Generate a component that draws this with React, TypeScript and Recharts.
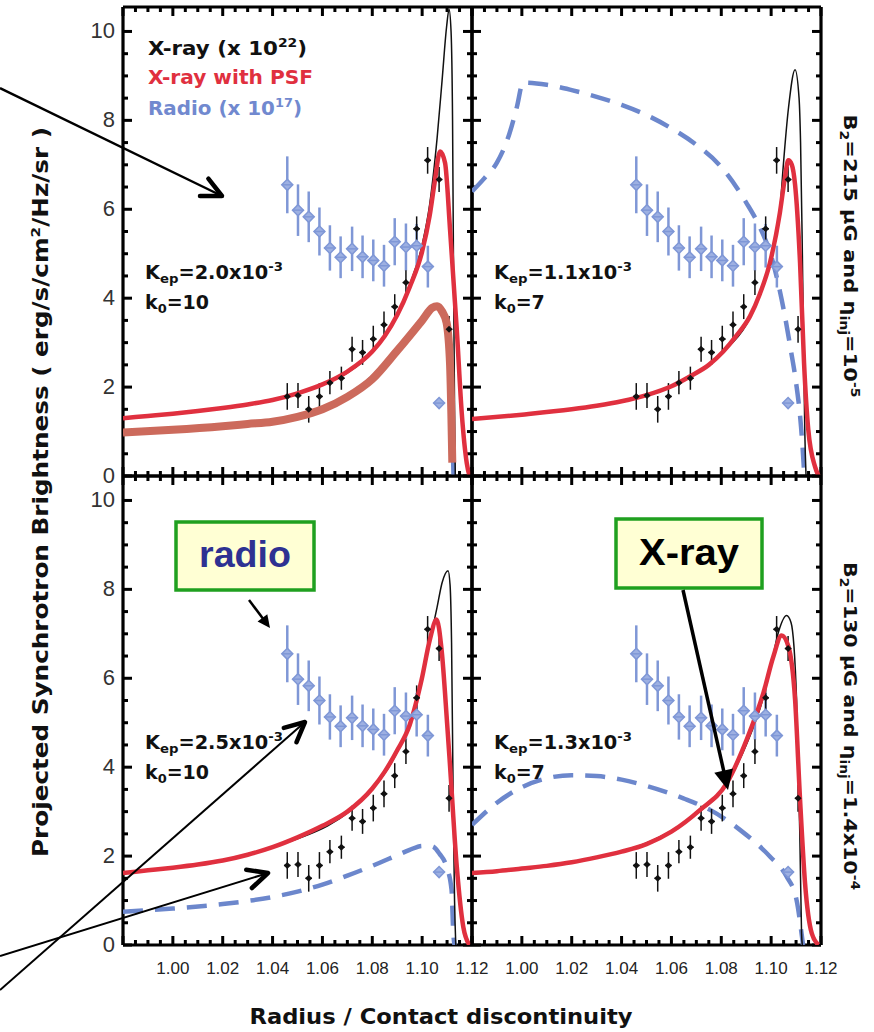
import React from 'react';
import { ComposedChart, Line, Scatter, ErrorBar, XAxis, YAxis, ReferenceLine } from 'recharts';

type Pt = [number, number];

// axes
const X_DOMAIN: [number, number] = [0.98, 1.12];
const Y_DOMAIN: [number, number] = [0, 10.55];
const X_MAJOR = [0.98, 1.0, 1.02, 1.04, 1.06, 1.08, 1.1, 1.12];
const X_LABELS = ['', '1.00', '1.02', '1.04', '1.06', '1.08', '1.10', '1.12'];
const Y_MAJOR = [0, 2, 4, 6, 8, 10];
const Y_LABELS = ['0', '2', '4', '6', '8', '10'];

// observed radio profile (x 10^17)
const RADIO_R = [1.0459, 1.0502, 1.0545, 1.0588, 1.063, 1.0673, 1.0719, 1.0761, 1.0804, 1.0847, 1.089, 1.0935, 1.0978, 1.1023, 1.1068];
const RADIO_V = [6.55, 5.98, 5.83, 5.5, 5.13, 4.92, 5.11, 4.93, 4.85, 4.73, 5.27, 5.15, 5.18, 4.71, 1.64];
const RADIO_ERR = [0.64, 0.58, 0.57, 0.54, 0.51, 0.47, 0.5, 0.48, 0.47, 0.47, 0.53, 0.53, 0.49, 0.47, 0.05];

// observed X-ray profile (x 10^22)
const XRAY_R = [1.0459, 1.0502, 1.0545, 1.0588, 1.063, 1.0676, 1.0719, 1.0761, 1.0804, 1.0847, 1.089, 1.0935, 1.0978, 1.1022, 1.1068, 1.1108];
const XRAY_V = [1.79, 1.81, 1.5, 1.79, 2.1, 2.2, 2.85, 2.78, 3.08, 3.4, 3.81, 4.35, 5.56, 7.1, 6.67, 3.3];
const XRAY_ERR = [0.3, 0.28, 0.3, 0.3, 0.26, 0.26, 0.28, 0.28, 0.3, 0.3, 0.28, 0.28, 0.28, 0.3, 0.28, 0.3];
const XRAY_XERR = 0.0013;

// models, top-left (Kep=2.0e-3, k0=10)
const TL_BLUE: Pt[] = [[0.98, 0.97], [1.02, 1.11], [1.05, 1.32], [1.07, 1.77], [1.09, 2.8], [1.1, 3.48], [1.106, 3.8], [1.1098, 3.43], [1.1112, 2.5], [1.1122, 0.8], [1.1126, 0]];
const TL_BLACK: Pt[] = [[0.98, 1.3], [1.0, 1.4], [1.02, 1.53], [1.04, 1.7], [1.06, 2.05], [1.07, 2.32], [1.08, 2.78], [1.09, 3.6], [1.095, 4.3], [1.1, 5.2], [1.103, 6.1], [1.106, 7.6], [1.108, 8.9], [1.1098, 10.1], [1.1108, 10.5], [1.1116, 10.0], [1.1122, 8.0], [1.1126, 4.5], [1.113, 1.5], [1.1133, 0]];
const TL_RED: Pt[] = [[0.98, 1.3], [0.99, 1.35], [1.0, 1.4], [1.01, 1.46], [1.02, 1.53], [1.03, 1.61], [1.04, 1.71], [1.05, 1.86], [1.06, 2.06], [1.07, 2.35], [1.08, 2.8], [1.085, 3.15], [1.09, 3.62], [1.095, 4.25], [1.1, 5.05], [1.103, 5.85], [1.105, 6.6], [1.1072, 7.3], [1.1092, 7.04], [1.1112, 5.54], [1.1139, 3.29], [1.1159, 1.41], [1.1179, 0.29], [1.119, 0]];
const TL_BROWN: Pt[] = [[0.98, 0.98], [1.0, 1.04], [1.02, 1.12], [1.03, 1.17], [1.04, 1.22], [1.05, 1.33], [1.06, 1.5], [1.07, 1.78], [1.08, 2.18], [1.09, 2.82], [1.1, 3.5], [1.104, 3.78], [1.106, 3.82], [1.108, 3.7], [1.1098, 3.45], [1.1112, 2.5], [1.1121, 0.3]];

// models, top-right (Kep=1.1e-3, k0=7)
const TR_BLUE: Pt[] = [[0.98, 6.4], [0.985, 6.7], [0.99, 7.05], [0.995, 7.7], [0.998, 8.3], [1.0005, 8.85], [1.01, 8.8], [1.02, 8.68], [1.03, 8.53], [1.04, 8.35], [1.05, 8.12], [1.06, 7.82], [1.07, 7.45], [1.08, 6.95], [1.09, 6.15], [1.095, 5.65], [1.1, 4.95], [1.105, 3.75], [1.108, 2.8], [1.11, 2.1], [1.112, 1.1], [1.113, 0.3], [1.1133, 0]];
const TR_BLACK: Pt[] = [[0.98, 1.28], [1.02, 1.5], [1.06, 2.02], [1.08, 2.76], [1.09, 3.4], [1.095, 4.0], [1.1, 4.9], [1.1035, 5.95], [1.1049, 7.0], [1.107, 8.3], [1.1096, 9.14], [1.1112, 8.5], [1.1118, 7.5], [1.1124, 5.5], [1.113, 3.0], [1.1135, 1.0], [1.114, 0]];
const TR_RED: Pt[] = [[0.98, 1.28], [1.0, 1.38], [1.02, 1.5], [1.03, 1.58], [1.04, 1.68], [1.05, 1.82], [1.06, 2.02], [1.0674, 2.24], [1.075, 2.5], [1.0808, 2.8], [1.086, 3.15], [1.0915, 3.59], [1.0955, 4.1], [1.0995, 4.79], [1.1035, 5.92], [1.1055, 6.7], [1.1069, 7.1], [1.1083, 7.0], [1.1096, 6.55], [1.1116, 4.79], [1.1132, 2.54], [1.1149, 1.04], [1.1176, 0.21], [1.119, 0]];

// models, bottom-left (Kep=2.5e-3, k0=10)
const BL_BLUE: Pt[] = [[0.98, 0.75], [1.0, 0.82], [1.02, 0.92], [1.03, 0.99], [1.04, 1.08], [1.05, 1.2], [1.06, 1.36], [1.07, 1.56], [1.08, 1.78], [1.09, 2.02], [1.095, 2.14], [1.1, 2.23], [1.104, 2.22], [1.107, 2.05], [1.1098, 1.76], [1.1118, 1.24], [1.1125, 0.26], [1.113, 0]];
const BL_BLACK: Pt[] = [[0.98, 1.62], [1.04, 2.2], [1.08, 3.5], [1.09, 4.35], [1.1, 5.95], [1.103, 6.8], [1.106, 7.6], [1.108, 8.15], [1.1104, 8.42], [1.1112, 8.1], [1.1118, 6.8], [1.1125, 3.0], [1.113, 1.0], [1.1135, 0]];
const BL_RED: Pt[] = [[0.98, 1.62], [0.99, 1.68], [1.0, 1.74], [1.01, 1.81], [1.02, 1.9], [1.03, 2.03], [1.04, 2.2], [1.05, 2.42], [1.06, 2.68], [1.07, 3.0], [1.08, 3.52], [1.085, 3.9], [1.09, 4.38], [1.095, 4.95], [1.0998, 5.97], [1.1031, 6.87], [1.1058, 7.32], [1.1078, 6.64], [1.11, 5.0], [1.1112, 4.02], [1.1139, 1.76], [1.1165, 0.41], [1.119, 0]];

// models, bottom-right (Kep=1.3e-3, k0=7)
const BR_BLUE: Pt[] = [[0.98, 2.7], [0.99, 3.2], [1.0, 3.55], [1.01, 3.75], [1.02, 3.82], [1.03, 3.8], [1.04, 3.72], [1.0487, 3.6], [1.0648, 3.3], [1.0755, 3.04], [1.0875, 2.59], [1.0995, 1.99], [1.1062, 1.54], [1.1102, 1.01], [1.1122, 0.26], [1.1128, 0]];
const BR_BLACK: Pt[] = [[0.98, 1.62], [1.04, 2.1], [1.07, 2.95], [1.08, 3.45], [1.09, 4.5], [1.097, 5.6], [1.1, 6.3], [1.103, 7.05], [1.1062, 7.41], [1.108, 7.25], [1.1102, 5.52], [1.1115, 2.5], [1.1122, 0.26], [1.1125, 0]];
const BR_RED: Pt[] = [[0.98, 1.62], [0.99, 1.66], [1.0, 1.72], [1.01, 1.78], [1.02, 1.86], [1.03, 1.97], [1.04, 2.1], [1.05, 2.27], [1.06, 2.55], [1.0715, 3.04], [1.0822, 3.64], [1.0902, 4.62], [1.0969, 5.67], [1.1009, 6.49], [1.1042, 6.96], [1.1069, 6.72], [1.1096, 5.52], [1.1116, 3.27], [1.1136, 1.39], [1.1163, 0.26], [1.119, 0]];

const RED = '#E0303F';
const BLUE = '#6C87CC';
const BLUE_PT = '#7F97D6';
const BROWN = '#CC6A5C';
const INK = '#111111';

// plot area size; each chart gets a 1px axis strip on every side
const PW = 349;
const PH = 469;
const TICK_FONT = "'Liberation Sans', Arial, sans-serif";
const LABEL_FONT = "'DejaVu Sans', sans-serif";

const X_TICKS = Array.from({ length: 29 }, (_, i) => +(0.98 + i * 0.005).toFixed(3));
const Y_TICKS = Array.from({ length: 21 }, (_, i) => i * 0.5);
// inward tick lengths in data units (major, minor)
const XT_LEN = [9 * (Y_DOMAIN[1] / PH), 5 * (Y_DOMAIN[1] / PH)];
const YT_LEN = [9 * ((X_DOMAIN[1] - X_DOMAIN[0]) / PW), 5 * ((X_DOMAIN[1] - X_DOMAIN[0]) / PW)];

const pts = (a: Pt[]) => a.map(([x, y]) => ({ x, y }));
const radioData = RADIO_R.map((x, i) => ({ x, y: RADIO_V[i], e: RADIO_ERR[i] }));
const xrayData = XRAY_R.map((x, i) => ({ x, y: XRAY_V[i], e: XRAY_ERR[i], ex: XRAY_XERR }));

const near = (v: number, step: number) => Math.abs(v / step - Math.round(v / step)) < 1e-6;

function xLabel(props: any) {
  const { x, y, payload } = props;
  const i = X_MAJOR.findIndex((m) => Math.abs(m - payload.value) < 1e-6);
  if (i < 0 || X_LABELS[i] === '') return <g />;
  return (
    <text x={x} y={y + 29} textAnchor="middle" fontSize={17} fontFamily={TICK_FONT} fill="#222">
      {X_LABELS[i]}
    </text>
  );
}

function yLabel(props: any) {
  const { x, y, payload } = props;
  const i = Y_MAJOR.findIndex((m) => Math.abs(m - payload.value) < 1e-6);
  if (i < 0) return <g />;
  return (
    <text x={x - 8} y={y + 7} textAnchor="end" fontSize={22} fontFamily={TICK_FONT} fill="#333">
      {Y_LABELS[i]}
    </text>
  );
}

const BlackMark = (p: any) => (
  <path d={`M${p.cx},${p.cy - 3.5}L${p.cx + 3.5},${p.cy}L${p.cx},${p.cy + 3.5}L${p.cx - 3.5},${p.cy}Z`} fill={INK} />
);

const BlueMark = (p: any) => (
  <g>
    <path d={`M${p.cx},${p.cy - 5.5}L${p.cx + 5.5},${p.cy}L${p.cx},${p.cy + 5.5}L${p.cx - 5.5},${p.cy}Z`} fill="#9DB0E2" stroke={BLUE_PT} strokeWidth={1.5} />
    <line x1={p.cx - 5.5} y1={p.cy} x2={p.cx + 5.5} y2={p.cy} stroke={BLUE_PT} strokeWidth={1.5} />
  </g>
);

// frame and inward ticks on all four sides, drawn through the chart scales
function frameAndTicks() {
  const [x0, x1] = X_DOMAIN;
  const [y0, y1] = Y_DOMAIN;
  const out: React.ReactNode[] = [];
  X_TICKS.forEach((v, i) => {
    const L = near(v, 0.02) ? XT_LEN[0] : XT_LEN[1];
    out.push(<ReferenceLine key={`xb${i}`} segment={[{ x: v, y: y0 }, { x: v, y: y0 + L }]} stroke="#000" strokeWidth={3} ifOverflow="visible" />);
    out.push(<ReferenceLine key={`xt${i}`} segment={[{ x: v, y: y1 }, { x: v, y: y1 - L }]} stroke="#000" strokeWidth={3} ifOverflow="visible" />);
  });
  Y_TICKS.forEach((v, i) => {
    const L = near(v, 2) ? YT_LEN[0] : YT_LEN[1];
    out.push(<ReferenceLine key={`yl${i}`} segment={[{ x: x0, y: v }, { x: x0 + L, y: v }]} stroke="#000" strokeWidth={3} ifOverflow="visible" />);
    out.push(<ReferenceLine key={`yr${i}`} segment={[{ x: x1, y: v }, { x: x1 - L, y: v }]} stroke="#000" strokeWidth={3} ifOverflow="visible" />);
  });
  out.push(<ReferenceLine key="fb" y={y0} stroke="#000" strokeWidth={3.2} ifOverflow="visible" />);
  out.push(<ReferenceLine key="ft" y={y1} stroke="#000" strokeWidth={3.2} ifOverflow="visible" />);
  out.push(<ReferenceLine key="fl" x={x0} stroke="#000" strokeWidth={3.2} ifOverflow="visible" />);
  out.push(<ReferenceLine key="fr" x={x1} stroke="#000" strokeWidth={3.2} ifOverflow="visible" />);
  return out;
}

interface PanelProps {
  left: number;
  top: number;
  blue: Pt[];
  black: Pt[];
  red: Pt[];
  brown?: Pt[];
  xLabels: boolean;
  yLabels: boolean;
}

function Panel({ left, top, blue, black, red, brown, xLabels, yLabels }: PanelProps) {
  return (
    <div style={{ position: 'absolute', left: left - 1, top: top - 1 }}>
      <ComposedChart width={PW + 2} height={PH + 2} margin={{ top: 0, right: 0, bottom: 0, left: 0 }}>
        <XAxis dataKey="x" type="number" domain={X_DOMAIN} allowDataOverflow ticks={X_TICKS} interval={0} height={1} tickSize={0} tickMargin={0} axisLine={false} tickLine={false} tick={xLabels ? xLabel : false} />
        <XAxis xAxisId="t" orientation="top" dataKey="x" type="number" domain={X_DOMAIN} allowDataOverflow height={1} axisLine={false} tickLine={false} tick={false} />
        <YAxis type="number" domain={Y_DOMAIN} allowDataOverflow ticks={Y_TICKS} interval={0} width={1} tickSize={0} tickMargin={0} axisLine={false} tickLine={false} tick={yLabels ? yLabel : false} />
        <YAxis yAxisId="r" orientation="right" type="number" domain={Y_DOMAIN} allowDataOverflow width={1} axisLine={false} tickLine={false} tick={false} />
        {frameAndTicks()}
        <Line data={pts(blue)} dataKey="y" type="monotone" stroke={BLUE} strokeWidth={4.5} strokeDasharray="20 12" dot={false} isAnimationActive={false} />
        <Line data={pts(black)} dataKey="y" type="monotone" stroke={INK} strokeWidth={1.5} dot={false} isAnimationActive={false} />
        <Scatter data={radioData} dataKey="y" shape={BlueMark} isAnimationActive={false}>
          <ErrorBar dataKey="e" direction="y" width={0} stroke={BLUE_PT} strokeWidth={2.5} isAnimationActive={false} />
        </Scatter>
        <Scatter data={xrayData} dataKey="y" shape={BlackMark} isAnimationActive={false}>
          <ErrorBar dataKey="e" direction="y" width={0} stroke={INK} strokeWidth={1.5} isAnimationActive={false} />
          <ErrorBar dataKey="ex" direction="x" width={0} stroke={INK} strokeWidth={1.5} isAnimationActive={false} />
        </Scatter>
        <Line data={pts(red)} dataKey="y" type="monotone" stroke={RED} strokeWidth={4.5} dot={false} isAnimationActive={false} />
        {brown && (
          <Line data={pts(brown)} dataKey="y" type="monotone" stroke={BROWN} strokeWidth={8} dot={false} isAnimationActive={false} />
        )}
      </ComposedChart>
    </div>
  );
}

function Arrow({ x1, y1, x2, y2, w = 2.5, head = 20, filled = false, headW = 4.5 }: any) {
  const a = Math.atan2(y2 - y1, x2 - x1);
  const s = 0.45;
  const p1 = `${x2 - head * Math.cos(a - s)},${y2 - head * Math.sin(a - s)}`;
  const p2 = `${x2 - head * Math.cos(a + s)},${y2 - head * Math.sin(a + s)}`;
  return (
    <g>
      <line x1={x1} y1={y1} x2={x2 - (filled ? Math.cos(a) * head * 0.6 : 0)} y2={y2 - (filled ? Math.sin(a) * head * 0.6 : 0)} stroke="#000" strokeWidth={w} />
      {filled ? (
        <path d={`M${x2},${y2}L${p1}L${p2}Z`} fill="#000" />
      ) : (
        <path d={`M${p1}L${x2},${y2}L${p2}`} fill="none" stroke="#000" strokeWidth={headW} strokeLinecap="round" strokeLinejoin="round" />
      )}
    </g>
  );
}

function Params({ x, y, kep, k0 }: { x: number; y: number; kep: string; k0: string }) {
  const common = { fontFamily: LABEL_FONT, fontWeight: 'bold' as const, fill: INK };
  return (
    <g>
      <text x={x} y={y} fontSize={19} textLength={138} lengthAdjust="spacingAndGlyphs" {...common}>
        K<tspan fontSize={13} dy={4}>ep</tspan>
        <tspan dy={-4}>={kep}x10</tspan>
        <tspan fontSize={13} dy={-8}>-3</tspan>
      </text>
      <text x={x} y={y + 30} fontSize={19} {...common}>
        k<tspan fontSize={13} dy={4}>0</tspan>
        <tspan dy={-4}>={k0}</tspan>
      </text>
    </g>
  );
}

export default function App() {
  const bold = { fontFamily: LABEL_FONT, fontWeight: 'bold' as const };
  return (
    <div style={{ position: 'absolute', left: 0, top: 0, width: 874, height: 1032, background: '#fff', overflow: 'hidden' }}>
      <style>{'.recharts-surface{overflow:visible}'}</style>
      <Panel left={123} top={7} blue={TL_BLUE} black={TL_BLACK} red={TL_RED} brown={TL_BROWN} xLabels={false} yLabels />
      <Panel left={472} top={7} blue={TR_BLUE} black={TR_BLACK} red={TR_RED} xLabels={false} yLabels={false} />
      <Panel left={123} top={476} blue={BL_BLUE} black={BL_BLACK} red={BL_RED} xLabels yLabels />
      <Panel left={472} top={476} blue={BR_BLUE} black={BR_BLACK} red={BR_RED} xLabels yLabels={false} />

      <svg width={874} height={1032} style={{ position: 'absolute', left: 0, top: 0, pointerEvents: 'none' }}>
        {/* legend */}
        <text x={148} y={55} fontSize={20} textLength={159} lengthAdjust="spacingAndGlyphs" fill={INK} {...bold}>
          X-ray (x 10<tspan fontSize={13} dy={-8}>22</tspan>
          <tspan dy={8}>)</tspan>
        </text>
        <text x={148} y={84} fontSize={20} textLength={165} lengthAdjust="spacingAndGlyphs" fill={RED} {...bold}>
          X-ray with PSF
        </text>
        <text x={148} y={115} fontSize={20} textLength={154} lengthAdjust="spacingAndGlyphs" fill="#7189CF" {...bold}>
          Radio (x 10<tspan fontSize={13} dy={-8}>17</tspan>
          <tspan dy={8}>)</tspan>
        </text>

        <Params x={145} y={279} kep="2.0" k0="10" />
        <Params x={494} y={279} kep="1.1" k0="7" />
        <Params x={145} y={749} kep="2.5" k0="10" />
        <Params x={494} y={749} kep="1.3" k0="7" />

        {/* axis titles */}
        <text transform="translate(48,492) rotate(-90)" textAnchor="middle" fontSize={21} textLength={730} lengthAdjust="spacingAndGlyphs" fill={INK} {...bold}>
          Projected Synchrotron Brightness ( erg/s/cm<tspan fontSize={13} dy={-8}>2</tspan>
          <tspan dy={8}>/Hz/sr )</tspan>
        </text>
        <text x={441} y={1024} textAnchor="middle" fontSize={21} textLength={383} lengthAdjust="spacingAndGlyphs" fill={INK} {...bold}>
          Radius / Contact discontinuity
        </text>
        <text transform="translate(844,256) rotate(90)" textAnchor="middle" fontSize={18} textLength={283} lengthAdjust="spacingAndGlyphs" fill={INK} {...bold}>
          B<tspan fontSize={12} dy={4}>2</tspan>
          <tspan dy={-4}>=215 μG and η</tspan>
          <tspan fontSize={12} dy={4}>inj</tspan>
          <tspan dy={-4}>=10</tspan>
          <tspan fontSize={12} dy={-7}>-5</tspan>
        </text>
        <text transform="translate(844,726) rotate(90)" textAnchor="middle" fontSize={18} textLength={328} lengthAdjust="spacingAndGlyphs" fill={INK} {...bold}>
          B<tspan fontSize={12} dy={4}>2</tspan>
          <tspan dy={-4}>=130 μG and η</tspan>
          <tspan fontSize={12} dy={4}>inj</tspan>
          <tspan dy={-4}>=1.4x10</tspan>
          <tspan fontSize={12} dy={-7}>-4</tspan>
        </text>

        {/* call-out boxes */}
        <rect x={176} y={522} width={138} height={68} fill="#FFFFD4" stroke="#1FA01F" strokeWidth={3.5} />
        <text x={245} y={567} textAnchor="middle" fontSize={36} textLength={92} lengthAdjust="spacingAndGlyphs" fontFamily="'Liberation Sans', Arial, sans-serif" fontWeight="bold" fill="#2E3192">
          radio
        </text>
        <rect x={616} y={519} width={146} height={69} fill="#FFFFD4" stroke="#1FA01F" strokeWidth={3.5} />
        <text x={689} y={565} textAnchor="middle" fontSize={36} textLength={100} lengthAdjust="spacingAndGlyphs" fontFamily="'Liberation Sans', Arial, sans-serif" fontWeight="bold" fill="#000">
          X-ray
        </text>

        {/* arrows */}
        <Arrow x1={0} y1={88} x2={222} y2={196} w={2.5} head={22} />
        <Arrow x1={249} y1={600} x2={270} y2={628} w={2.5} head={14} filled />
        <Arrow x1={0} y1={990} x2={305} y2={722} w={2} head={22} />
        <Arrow x1={0} y1={956} x2={268} y2={873} w={2} head={22} />
        <Arrow x1={683} y1={590} x2={728} y2={790} w={3.5} head={22} filled />
      </svg>
    </div>
  );
}
